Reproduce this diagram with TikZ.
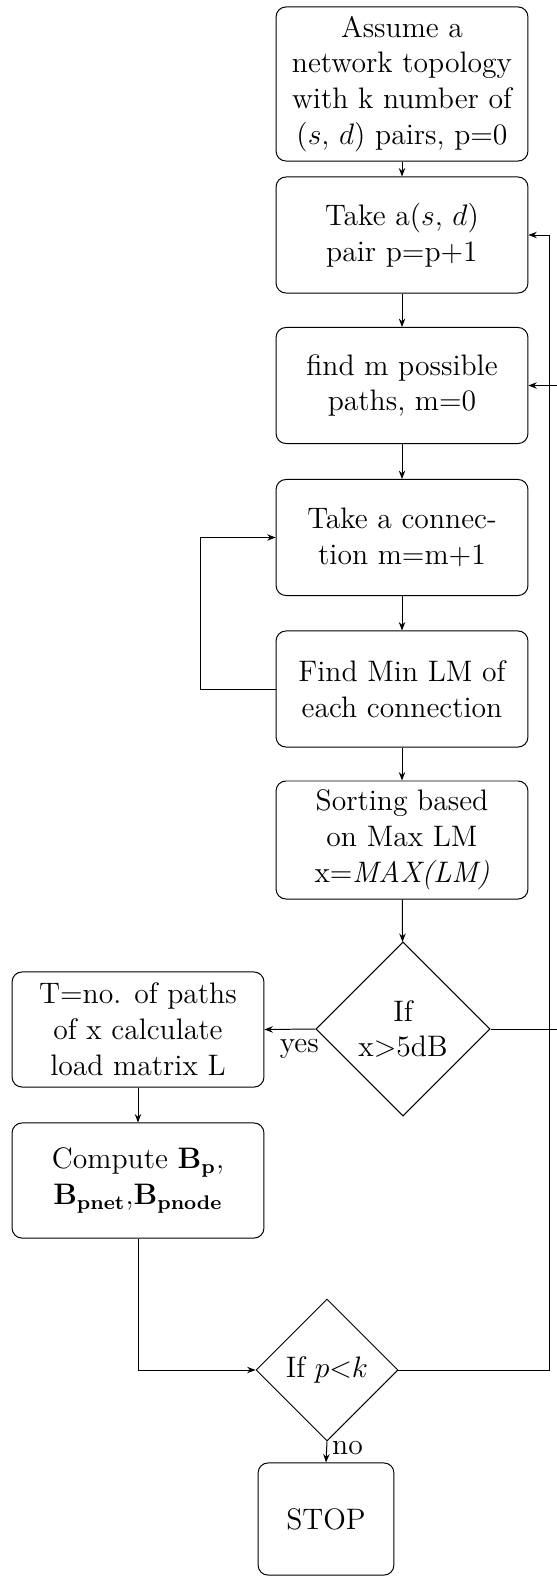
\documentclass[tikz,border=0pt,12pt]{standalone}
\usetikzlibrary{shapes.geometric,arrows.meta}
\begin{document}
\begin{tikzpicture}[x=0.405pt,y=-0.405pt,
  >={Stealth[length=3.4pt,width=2.6pt]},
  line/.style={draw,->},
  box/.style={draw, rounded corners=4pt, align=center, minimum width=102pt, minimum height=47pt, inner sep=2pt},
  dec/.style={draw, diamond, aspect=1, align=center, inner sep=0pt}]
\useasboundingbox (0,0) rectangle (557,1576);
\node[box, minimum height=62.4pt] (b1) at (402,84) {Assume a\\network topology\\with k number of\\($s$, $d$) pairs, p=0};
\node[box] (b2) at (402,235) {Take a($s$, $d$)\\pair p=p+1};
\node[box] (b3) at (402,385.5) {find m possible\\paths, m=0};
\node[box] (b4) at (402,537.5) {Take a connec-\\tion m=m+1};
\node[box] (b5) at (402,689) {Find Min LM of\\each connection};
\node[box, minimum height=47.8pt] (b6) at (402,840) {Sorting based\\on Max LM\\x=\textit{MAX(LM)}};
\node[dec, minimum size=70.5pt] (d1) at (403,1029) {If\\x\textgreater5dB};
\node[box, minimum height=46.6pt] (t) at (138,1029.5) {T=no. of paths\\of x calculate\\load matrix L};
\node[box, minimum height=46.6pt] (c) at (138,1180.5) {Compute $\mathbf{B_p}$,\\$\mathbf{B_{pnet}}$,$\mathbf{B_{pnode}}$};
\node[dec, minimum size=57.5pt] (d2) at (327,1370) {If $p{<}k$};
\node[box, minimum width=55pt, minimum height=45.4pt] (s) at (326,1519) {STOP};
\coordinate (r1) at (549,0);
\coordinate (r2) at (565,0);
\coordinate (l1) at (200,0);
\draw[->] (b1) -- (b2);
\draw[->] (b2) -- (b3);
\draw[->] (b3) -- (b4);
\draw[->] (b4) -- (b5);
\draw[->] (b5.west) -- (b5.west -| l1) |- (b4.west);
\draw[->] (b5) -- (b6);
\draw[->] (b6) -- (d1);
\draw[->] (d1.west) -- node[pos=0, below left, xshift=5.5pt]{yes} (t.east);
\draw[->] (t) -- (c);
\draw[->] (c.south) |- (d2.west);
\draw[->] (d1.east) -- (d1.east -| r2) |- (b3.east);
\draw[->] (d2.east) -- (d2.east -| r1) |- (b2.east);
\draw[->] (d2.south) -- node[pos=0.3, right, inner sep=2pt]{no} (s.north);
\end{tikzpicture}
\end{document}
